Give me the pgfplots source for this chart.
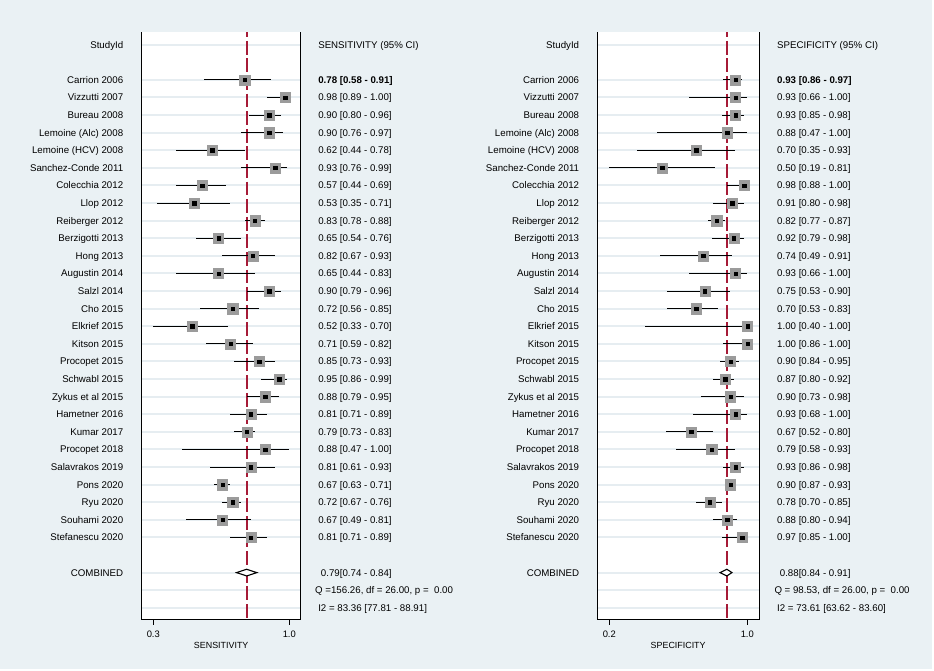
\documentclass[border=0pt]{standalone}
\usepackage{fontspec}
\setmainfont{Liberation Sans}
\usepackage{pgfplots}
\usepackage{pgfplotstable}
\pgfplotsset{compat=1.18}
\definecolor{bgc}{RGB}{234,241,244}
\definecolor{gridc}{RGB}{230,237,241}
\definecolor{refred}{RGB}{166,27,55}
\definecolor{sqgray}{RGB}{155,155,155}

\pgfplotstableread{
y est lo hi
-2 0.78 0.58 0.91
-3 0.98 0.89 1.00
-4 0.90 0.80 0.96
-5 0.90 0.76 0.97
-6 0.62 0.44 0.78
-7 0.93 0.76 0.99
-8 0.57 0.44 0.69
-9 0.53 0.35 0.71
-10 0.83 0.78 0.88
-11 0.65 0.54 0.76
-12 0.82 0.67 0.93
-13 0.65 0.44 0.83
-14 0.90 0.79 0.96
-15 0.72 0.56 0.85
-16 0.52 0.33 0.70
-17 0.71 0.59 0.82
-18 0.85 0.73 0.93
-19 0.95 0.86 0.99
-20 0.88 0.79 0.95
-21 0.81 0.71 0.89
-22 0.79 0.73 0.83
-23 0.88 0.47 1.00
-24 0.81 0.61 0.93
-25 0.67 0.63 0.71
-26 0.72 0.67 0.76
-27 0.67 0.49 0.81
-28 0.81 0.71 0.89
}\sens

\pgfplotstableread{
y est lo hi
-2 0.93 0.86 0.97
-3 0.93 0.66 1.00
-4 0.93 0.85 0.98
-5 0.88 0.47 1.00
-6 0.70 0.35 0.93
-7 0.50 0.19 0.81
-8 0.98 0.88 1.00
-9 0.91 0.80 0.98
-10 0.82 0.77 0.87
-11 0.92 0.79 0.98
-12 0.74 0.49 0.91
-13 0.93 0.66 1.00
-14 0.75 0.53 0.90
-15 0.70 0.53 0.83
-16 1.00 0.40 1.00
-17 1.00 0.86 1.00
-18 0.90 0.84 0.95
-19 0.87 0.80 0.92
-20 0.90 0.73 0.98
-21 0.93 0.68 1.00
-22 0.67 0.52 0.80
-23 0.79 0.58 0.93
-24 0.93 0.86 0.98
-25 0.90 0.87 0.93
-26 0.78 0.70 0.85
-27 0.88 0.80 0.94
-28 0.97 0.85 1.00
}\spec

\tikzset{
  nm/.style={anchor=base east, inner sep=0pt, yshift=-3.5pt, font=\fontsize{9.7}{11}\selectfont},
  tx/.style={anchor=base west, inner sep=0pt, yshift=-3.5pt, font=\fontsize{9.7}{11}\selectfont},
}

\newcommand\studynames[1]{%
\node[nm] at (axis cs:#1,0) {StudyId};
\node[nm] at (axis cs:#1,-2) {Carrion 2006};
\node[nm] at (axis cs:#1,-3) {Vizzutti 2007};
\node[nm] at (axis cs:#1,-4) {Bureau 2008};
\node[nm] at (axis cs:#1,-5) {Lemoine (Alc) 2008};
\node[nm] at (axis cs:#1,-6) {Lemoine (HCV) 2008};
\node[nm] at (axis cs:#1,-7) {Sanchez-Conde 2011};
\node[nm] at (axis cs:#1,-8) {Colecchia 2012};
\node[nm] at (axis cs:#1,-9) {Llop 2012};
\node[nm] at (axis cs:#1,-10) {Reiberger 2012};
\node[nm] at (axis cs:#1,-11) {Berzigotti 2013};
\node[nm] at (axis cs:#1,-12) {Hong 2013};
\node[nm] at (axis cs:#1,-13) {Augustin 2014};
\node[nm] at (axis cs:#1,-14) {Salzl 2014};
\node[nm] at (axis cs:#1,-15) {Cho 2015};
\node[nm] at (axis cs:#1,-16) {Elkrief 2015};
\node[nm] at (axis cs:#1,-17) {Kitson 2015};
\node[nm] at (axis cs:#1,-18) {Procopet 2015};
\node[nm] at (axis cs:#1,-19) {Schwabl 2015};
\node[nm] at (axis cs:#1,-20) {Zykus et al 2015};
\node[nm] at (axis cs:#1,-21) {Hametner 2016};
\node[nm] at (axis cs:#1,-22) {Kumar 2017};
\node[nm] at (axis cs:#1,-23) {Procopet 2018};
\node[nm] at (axis cs:#1,-24) {Salavrakos 2019};
\node[nm] at (axis cs:#1,-25) {Pons 2020};
\node[nm] at (axis cs:#1,-26) {Ryu 2020};
\node[nm] at (axis cs:#1,-27) {Souhami 2020};
\node[nm] at (axis cs:#1,-28) {Stefanescu 2020};
\node[nm] at (axis cs:#1,-30) {COMBINED};
}

\pgfplotsset{
  forest/.style={
    scale only axis, width=159pt, height=587pt,
    anchor=south west,
    ymin=-32.653, ymax=0.699,
    clip=false,
    axis background/.style={fill=white},
    axis line style={draw=none},
    ytick={0,-2,-3,-4,-5,-6,-7,-8,-9,-10,-11,-12,-13,-14,-15,-16,-17,-18,-19,-20,-21,-22,-23,-24,-25,-26,-27,-28,-30,-31,-32},
    yticklabels={},
    ymajorgrids,
    major y grid style={gridc, line width=2pt},
    ytick style={draw=none},
    xtick pos=bottom,
    tick align=outside,
    major tick length=5.5pt,
    x tick style={black, line width=0.9pt},
    /pgf/number format/assume math mode=true,
    xticklabel style={font=\fontsize{9.4}{10}\selectfont, inner sep=0pt, anchor=north, yshift=-5.9pt},
    xlabel style={font=\fontsize{8.9}{10}\selectfont, inner sep=0pt, at={(axis description cs:0.5,0)}, anchor=base, yshift=-29.4pt},
  },
  cibar/.style={draw=none, mark=none,
    error bars/.cd, x dir=both, x explicit, error mark=none,
    error bar style={draw=black, line width=0.9pt, solid}},
  bigsq/.style={only marks, mark=square*, mark size=5.1pt, color=sqgray,
    mark options={solid, draw=sqgray, fill=sqgray, line width=0.1pt}},
  smallsq/.style={only marks, mark=square*, mark size=1.7pt, color=black,
    mark options={solid, draw=black, fill=black, line width=0.1pt}},
}

\begin{document}
\begin{tikzpicture}
\fill[white] (0,0) rectangle (934pt,671pt);
\fill[bgc] (0,2pt) rectangle (932pt,671pt);

% ---------------- Sensitivity ----------------
\begin{axis}[forest, at={(141.67pt,51.7pt)},
  xmin=0.2727, xmax=1.0560,
  xtick={0.33,1.0}, xticklabels={0.3,1.0},
  xlabel={SENSITIVITY}]
\addplot[refred, line width=2.2pt, dash pattern=on 13.8pt off 3.8pt, dash phase=9pt]
  coordinates {(0.79,0.699) (0.79,-32.653)};
\addplot[cibar] table[x=est, y=y,
  x error plus expr={\thisrow{hi}-\thisrow{est}},
  x error minus expr={\thisrow{est}-\thisrow{lo}}] {\sens};
\addplot[bigsq] table[x=est, y=y] {\sens};
\addplot[smallsq] table[x=est, y=y] {\sens};
\addplot[black, line width=1.1pt, fill=white, sharp plot]
  coordinates {(0.74,-30) (0.79,-29.81) (0.84,-30) (0.79,-30.19)} -- cycle;
\draw[black, line width=0.9pt] (rel axis cs:0,1) -- (rel axis cs:0,0) -- (rel axis cs:1,0) -- (rel axis cs:1,1);
\studynames{0.1827}
\node[tx] at (axis cs:1.1418,0) {SENSITIVITY (95\% CI)};
\node[tx] at (axis cs:1.1418,-2) {\textbf{0.78 [0.58 - 0.91]}};
\node[tx] at (axis cs:1.1418,-3) {0.98 [0.89 - 1.00]};
\node[tx] at (axis cs:1.1418,-4) {0.90 [0.80 - 0.96]};
\node[tx] at (axis cs:1.1418,-5) {0.90 [0.76 - 0.97]};
\node[tx] at (axis cs:1.1418,-6) {0.62 [0.44 - 0.78]};
\node[tx] at (axis cs:1.1418,-7) {0.93 [0.76 - 0.99]};
\node[tx] at (axis cs:1.1418,-8) {0.57 [0.44 - 0.69]};
\node[tx] at (axis cs:1.1418,-9) {0.53 [0.35 - 0.71]};
\node[tx] at (axis cs:1.1418,-10) {0.83 [0.78 - 0.88]};
\node[tx] at (axis cs:1.1418,-11) {0.65 [0.54 - 0.76]};
\node[tx] at (axis cs:1.1418,-12) {0.82 [0.67 - 0.93]};
\node[tx] at (axis cs:1.1418,-13) {0.65 [0.44 - 0.83]};
\node[tx] at (axis cs:1.1418,-14) {0.90 [0.79 - 0.96]};
\node[tx] at (axis cs:1.1418,-15) {0.72 [0.56 - 0.85]};
\node[tx] at (axis cs:1.1418,-16) {0.52 [0.33 - 0.70]};
\node[tx] at (axis cs:1.1418,-17) {0.71 [0.59 - 0.82]};
\node[tx] at (axis cs:1.1418,-18) {0.85 [0.73 - 0.93]};
\node[tx] at (axis cs:1.1418,-19) {0.95 [0.86 - 0.99]};
\node[tx] at (axis cs:1.1418,-20) {0.88 [0.79 - 0.95]};
\node[tx] at (axis cs:1.1418,-21) {0.81 [0.71 - 0.89]};
\node[tx] at (axis cs:1.1418,-22) {0.79 [0.73 - 0.83]};
\node[tx] at (axis cs:1.1418,-23) {0.88 [0.47 - 1.00]};
\node[tx] at (axis cs:1.1418,-24) {0.81 [0.61 - 0.93]};
\node[tx] at (axis cs:1.1418,-25) {0.67 [0.63 - 0.71]};
\node[tx] at (axis cs:1.1418,-26) {0.72 [0.67 - 0.76]};
\node[tx] at (axis cs:1.1418,-27) {0.67 [0.49 - 0.81]};
\node[tx] at (axis cs:1.1418,-28) {0.81 [0.71 - 0.89]};
\node[tx] at (axis cs:1.1418,-30) {\ 0.79[0.74 - 0.84]};
\node[tx] at (axis cs:1.1266,-31) {Q =156.26, df = 26.00, p = \ 0.00};
\node[tx] at (axis cs:1.1418,-32) {I2 = 83.36 [77.81 - 88.91]};
\end{axis}

% ---------------- Specificity ----------------
\begin{axis}[forest, at={(597.3pt,51.7pt)}, width=161.7pt,
  xmin=0.1196, xmax=1.0687,
  xtick={0.19,1.0}, xticklabels={0.2,1.0},
  xlabel={SPECIFICITY}]
\addplot[refred, line width=2.2pt, dash pattern=on 13.8pt off 3.8pt, dash phase=9pt]
  coordinates {(0.88,0.699) (0.88,-32.653)};
\addplot[cibar] table[x=est, y=y,
  x error plus expr={\thisrow{hi}-\thisrow{est}},
  x error minus expr={\thisrow{est}-\thisrow{lo}}] {\spec};
\addplot[bigsq] table[x=est, y=y] {\spec};
\addplot[smallsq] table[x=est, y=y] {\spec};
\addplot[black, line width=1.1pt, fill=white, sharp plot]
  coordinates {(0.84,-30) (0.88,-29.81) (0.91,-30) (0.88,-30.19)} -- cycle;
\draw[black, line width=0.9pt] (rel axis cs:0,1) -- (rel axis cs:0,0) -- (rel axis cs:1,0) -- (rel axis cs:1,1);
\studynames{0.0139}
\node[tx] at (axis cs:1.1744,0) {SPECIFICITY (95\% CI)};
\node[tx] at (axis cs:1.1744,-2) {\textbf{0.93 [0.86 - 0.97]}};
\node[tx] at (axis cs:1.1744,-3) {0.93 [0.66 - 1.00]};
\node[tx] at (axis cs:1.1744,-4) {0.93 [0.85 - 0.98]};
\node[tx] at (axis cs:1.1744,-5) {0.88 [0.47 - 1.00]};
\node[tx] at (axis cs:1.1744,-6) {0.70 [0.35 - 0.93]};
\node[tx] at (axis cs:1.1744,-7) {0.50 [0.19 - 0.81]};
\node[tx] at (axis cs:1.1744,-8) {0.98 [0.88 - 1.00]};
\node[tx] at (axis cs:1.1744,-9) {0.91 [0.80 - 0.98]};
\node[tx] at (axis cs:1.1744,-10) {0.82 [0.77 - 0.87]};
\node[tx] at (axis cs:1.1744,-11) {0.92 [0.79 - 0.98]};
\node[tx] at (axis cs:1.1744,-12) {0.74 [0.49 - 0.91]};
\node[tx] at (axis cs:1.1744,-13) {0.93 [0.66 - 1.00]};
\node[tx] at (axis cs:1.1744,-14) {0.75 [0.53 - 0.90]};
\node[tx] at (axis cs:1.1744,-15) {0.70 [0.53 - 0.83]};
\node[tx] at (axis cs:1.1744,-16) {1.00 [0.40 - 1.00]};
\node[tx] at (axis cs:1.1744,-17) {1.00 [0.86 - 1.00]};
\node[tx] at (axis cs:1.1744,-18) {0.90 [0.84 - 0.95]};
\node[tx] at (axis cs:1.1744,-19) {0.87 [0.80 - 0.92]};
\node[tx] at (axis cs:1.1744,-20) {0.90 [0.73 - 0.98]};
\node[tx] at (axis cs:1.1744,-21) {0.93 [0.68 - 1.00]};
\node[tx] at (axis cs:1.1744,-22) {0.67 [0.52 - 0.80]};
\node[tx] at (axis cs:1.1744,-23) {0.79 [0.58 - 0.93]};
\node[tx] at (axis cs:1.1744,-24) {0.93 [0.86 - 0.98]};
\node[tx] at (axis cs:1.1744,-25) {0.90 [0.87 - 0.93]};
\node[tx] at (axis cs:1.1744,-26) {0.78 [0.70 - 0.85]};
\node[tx] at (axis cs:1.1744,-27) {0.88 [0.80 - 0.94]};
\node[tx] at (axis cs:1.1744,-28) {0.97 [0.85 - 1.00]};
\node[tx] at (axis cs:1.1744,-30) {\ 0.88[0.84 - 0.91]};
\node[tx] at (axis cs:1.1585,-31) {Q = 98.53, df = 26.00, p = \ 0.00};
\node[tx] at (axis cs:1.1744,-32) {I2 = 73.61 [63.62 - 83.60]};
\end{axis}
\end{tikzpicture}
\end{document}
